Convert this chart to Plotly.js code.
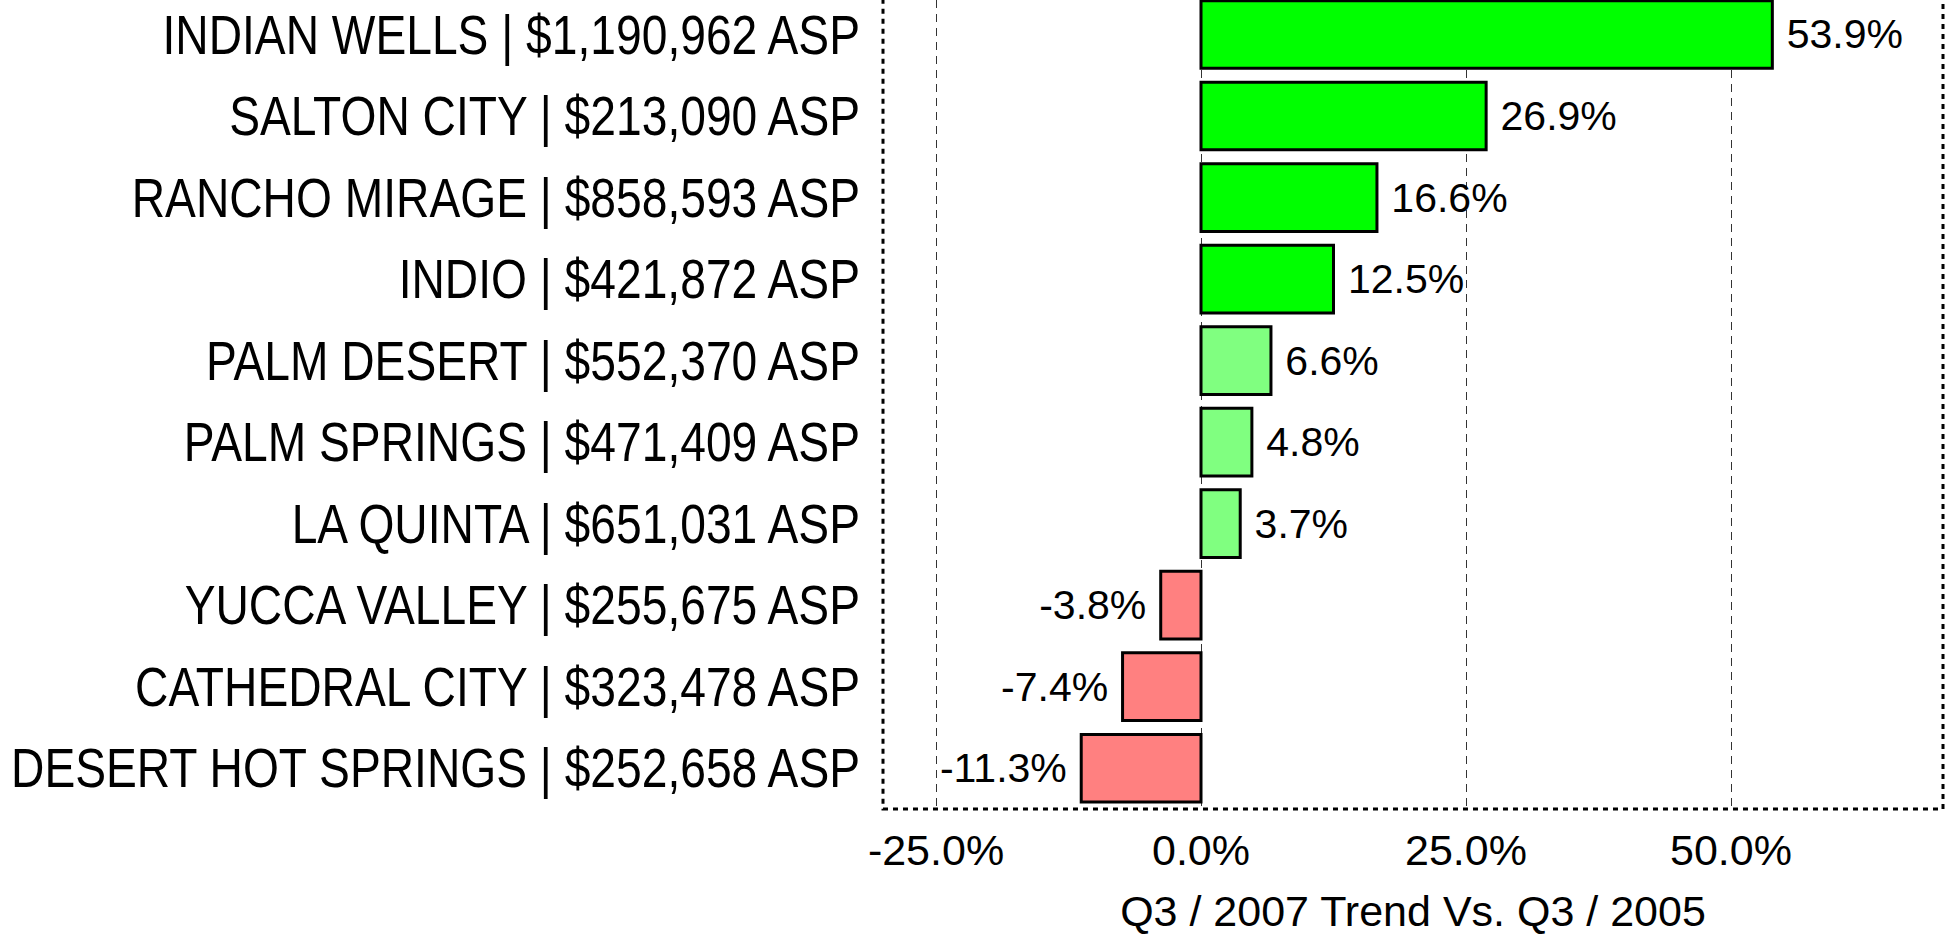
<!DOCTYPE html>
<html>
<head>
<meta charset="utf-8">
<script src="https://cdn.plot.ly/plotly-3.0.1.min.js"></script>
<style>
  html, body { margin: 0; padding: 0; background: #fff; }
  #chart { width: 1954px; height: 935px; }
</style>
</head>
<body>
<div id="chart"></div>
<script>
// Data (top to bottom as shown)
const cities = ["INDIAN WELLS", "SALTON CITY", "RANCHO MIRAGE", "INDIO", "PALM DESERT",
                "PALM SPRINGS", "LA QUINTA", "YUCCA VALLEY", "CATHEDRAL CITY", "DESERT HOT SPRINGS"];
const asp = ["$1,190,962", "$213,090", "$858,593", "$421,872", "$552,370",
             "$471,409", "$651,031", "$255,675", "$323,478", "$252,658"];
const trend = [53.9, 26.9, 16.6, 12.5, 6.6, 4.8, 3.7, -3.8, -7.4, -11.3];
const xTickVals = [-25, 0, 25, 50];
const xTitle = "Q3 / 2007 Trend Vs. Q3 / 2005";

const labels = cities.map((c, i) => c + " | " + asp[i] + " ASP");
function colorFor(v) {
  if (v < 0) return "#FF8080";
  if (v < 10) return "#80FF80";
  return "#00FF00";
}
const NB = "\u00A0";
const barText = trend.map(v => v >= 0 ? NB + v.toFixed(1) + "%" : v.toFixed(1) + "%" + NB);

const trace = {
  type: "bar",
  orientation: "h",
  x: trend,
  y: labels,
  text: barText,
  textposition: "outside",
  constraintext: "none",
  cliponaxis: false,
  textfont: { family: "Liberation Sans, Arial, sans-serif", size: 41, color: "#000" },
  marker: { color: trend.map(colorFor), line: { color: "#000", width: 3 } },
  hoverinfo: "skip"
};

const layout = {
  width: 1954, height: 935,
  margin: { l: 883, r: 11, t: 0, b: 126 },
  paper_bgcolor: "#fff", plot_bgcolor: "#fff",
  showlegend: false,
  bargap: 0.17,
  xaxis: {
    range: [-30, 70],
    tickvals: xTickVals,
    ticktext: xTickVals.map(v => v.toFixed(1) + "%"),
    showgrid: true,
    gridcolor: "#333",
    gridwidth: 1,
    griddash: "8px,6px",
    zeroline: false,
    showline: false,
    ticks: "",
    ticklabelstandoff: 12,
    tickfont: { family: "Liberation Sans, Arial, sans-serif", size: 43, color: "#000" },
    title: { text: xTitle, font: { family: "Liberation Sans, Arial, sans-serif", size: 43, color: "#000" }, standoff: 40 },
    automargin: false,
    fixedrange: true
  },
  yaxis: {
    type: "category",
    categoryorder: "array",
    categoryarray: labels,
    range: [9.5, -0.423],
    showgrid: false,
    zeroline: false,
    showline: false,
    ticks: "",
    ticklabelstandoff: 22,
    tickfont: { family: "Liberation Sans, Arial, sans-serif", size: 55, color: "#000" },
    automargin: false,
    fixedrange: true
  },
  shapes: [{
    type: "rect", xref: "paper", yref: "paper",
    x0: 0, x1: 1, y0: 0, y1: 1.02,
    line: { color: "#000", width: 3, dash: "5px,5px" },
    fillcolor: "rgba(0,0,0,0)", layer: "above"
  }]
};

Plotly.newPlot("chart", [trace], layout, { displayModeBar: false, staticPlot: true }).then(() => {
  // Condense the category labels horizontally (narrow typeface look), anchored at their right end.
  document.querySelectorAll("#chart .yaxislayer-above .ytick text").forEach(t => {
    const x = parseFloat(t.getAttribute("x")) || 0;
    const y = parseFloat(t.getAttribute("y")) || 0;
    const prev = t.getAttribute("transform") || "";
    t.setAttribute("transform", prev + " translate(" + x + "," + y + ") scale(0.84,1) translate(" + (-x) + "," + (-y) + ")");
  });
});
</script>
</body>
</html>
